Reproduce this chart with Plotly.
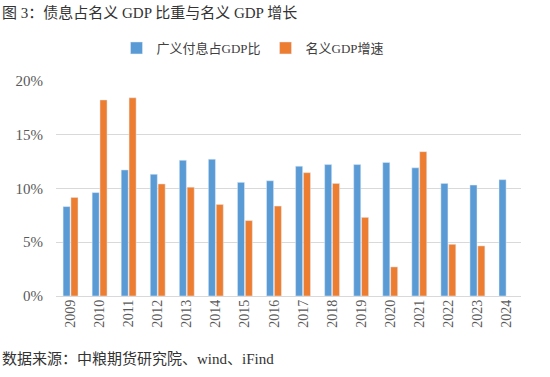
import plotly.graph_objects as go

years = [str(y) for y in range(2009, 2025)]
interest_ratio = [8.3, 9.6, 11.7, 11.3, 12.6, 12.7, 10.55, 10.7, 12.05, 12.2, 12.2, 12.4, 11.9, 10.45, 10.3, 10.8]
gdp_growth = [9.15, 18.2, 18.4, 10.4, 10.1, 8.5, 7.0, 8.35, 11.45, 10.45, 7.3, 2.7, 13.4, 4.8, 4.65, None]
series_names = ["广义付息占GDP比", "名义GDP增速"]
y_ticks = [0, 5, 10, 15, 20]
y_tick_labels = ["0%", "5%", "10%", "15%", "20%"]

FONT = "Liberation Serif, Noto Sans CJK SC, serif"

fig = go.Figure()
fig.add_trace(go.Bar(x=years, y=interest_ratio, name=series_names[0], marker_color="#5B9BD5"))
fig.add_trace(go.Bar(x=years, y=gdp_growth, name=series_names[1], marker_color="#ED7D31"))

fig.update_layout(
    width=550, height=377,
    margin=dict(l=56, r=29, t=80, b=81, autoexpand=False),
    paper_bgcolor="white", plot_bgcolor="white",
    barmode="group", bargap=0.46, bargroupgap=0.1,
    font=dict(family=FONT, color="#595959", size=13),
    showlegend=True,
    legend=dict(orientation="h", x=0.46, xref="container", xanchor="center",
                y=1 - 48/377, yref="container", yanchor="middle",
                font=dict(size=13, color="#404040"), itemwidth=30, traceorder="normal",
                tracegroupgap=0),
    xaxis=dict(type="category", tickangle=-90, showgrid=False, showline=False,
               ticks="", tickfont=dict(size=14, color="#595959"), automargin=False),
    yaxis=dict(range=[0, 20.05], tickvals=y_ticks, ticktext=y_tick_labels,
               showgrid=True, gridcolor="#D9D9D9", gridwidth=1, zeroline=True,
               zerolinecolor="#D9D9D9", zerolinewidth=1, ticks="", automargin=False,
               ticklabelstandoff=12,
               tickfont=dict(size=15, color="#595959")),
    annotations=[
        dict(text="图 3：债息占名义 GDP 比重与名义 GDP 增长", xref="paper", yref="paper",
             x=-56/465, y=1+67/216, xanchor="left", yanchor="middle", showarrow=False,
             font=dict(size=15, color="#333333", family=FONT)),
        dict(text="数据来源：中粮期货研究院、wind、iFind", xref="paper", yref="paper",
             x=-56/465, y=-62/216, xanchor="left", yanchor="middle", showarrow=False,
             font=dict(size=15, color="#333333", family=FONT)),
    ],
)

fig.write_html("out.html", config={"displayModeBar": False},
               post_script="document.body.style.margin='0';")
